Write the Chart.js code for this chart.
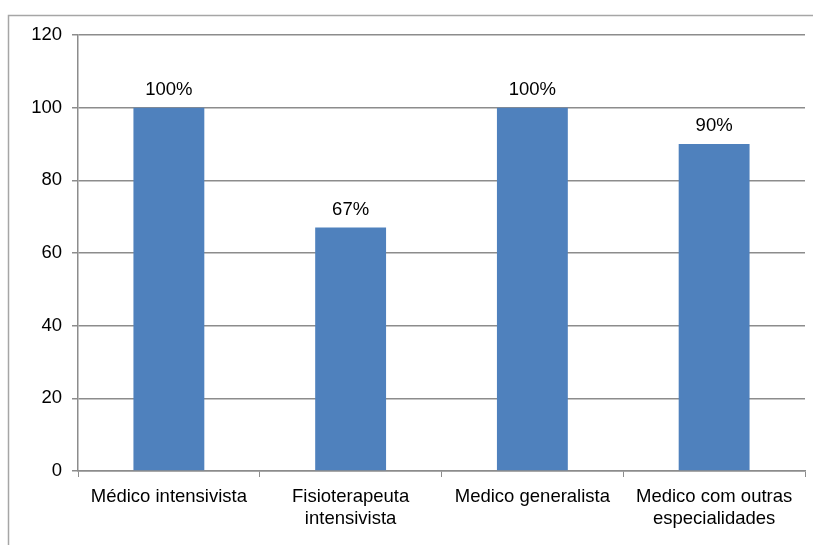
<!DOCTYPE html>
<html>
<head>
<meta charset="utf-8">
<script src="https://cdn.jsdelivr.net/npm/chart.js@4"></script>
<style>
html,body{margin:0;padding:0;background:#fff}
#wrap{width:813px;height:545px}
</style>
</head>
<body>
<div id="wrap"><canvas id="chart" width="813" height="545"></canvas></div>
<script>
// categories (multi-line where the label wraps)
let categories=[
"Médico intensivista",
["Fisioterapeuta","intensivista"],
"Medico generalista",
["Medico com outras","especialidades"]
]

// percentages
let values=[100,67,100,90]

let yMin=0
let yMax=120
let yStep=20

let font={family:"'Liberation Sans', Arial, sans-serif",size:18.5}
let gray="#8c8c8c"

// outer frame + value labels above each bar
let extras={
id:"extras",
beforeDraw(chart){
let ctx=chart.ctx
ctx.save()
ctx.fillStyle="#fff"
ctx.fillRect(0,0,chart.width,chart.height)
ctx.strokeStyle="#a6a6a6"
ctx.lineWidth=1.5
ctx.strokeRect(8.5,15.5,chart.width+20,chart.height+20)
ctx.restore()
},
afterDatasetsDraw(chart){
let ctx=chart.ctx
let meta=chart.getDatasetMeta(0)
ctx.save()
ctx.font=font.size+"px "+font.family
ctx.fillStyle="#000"
ctx.textAlign="center"
ctx.textBaseline="alphabetic"
meta.data.forEach((bar,i)=>{
ctx.fillText(values[i]+"%",bar.x,bar.y-13)
})
ctx.restore()
}
}

new Chart(document.getElementById("chart"),{
type:"bar",
data:{
labels:categories,
datasets:[{
data:values,
backgroundColor:"#4f81bd",
borderWidth:0,
barPercentage:0.78,
categoryPercentage:0.5
}]
},
options:{
responsive:false,
animation:false,
events:[],
layout:{padding:{left:0,top:35,right:8,bottom:0}},
plugins:{legend:{display:false},tooltip:{enabled:false}},
scales:{
x:{
grid:{offset:true,drawOnChartArea:false,drawTicks:true,tickLength:6,color:gray},
border:{color:gray,width:1.5},
ticks:{color:"#000",font:font,padding:9,maxRotation:0,autoSkip:false},
afterFit(scale){scale.height=74}
},
y:{
min:yMin,
max:yMax,
grid:{color:gray,lineWidth:1.5,tickLength:6,drawTicks:true},
border:{color:gray,width:1.5},
ticks:{stepSize:yStep,color:"#000",font:font,padding:10},
afterFit(scale){scale.width=78}
}
}
},
plugins:[extras]
})
</script>
</body>
</html>
